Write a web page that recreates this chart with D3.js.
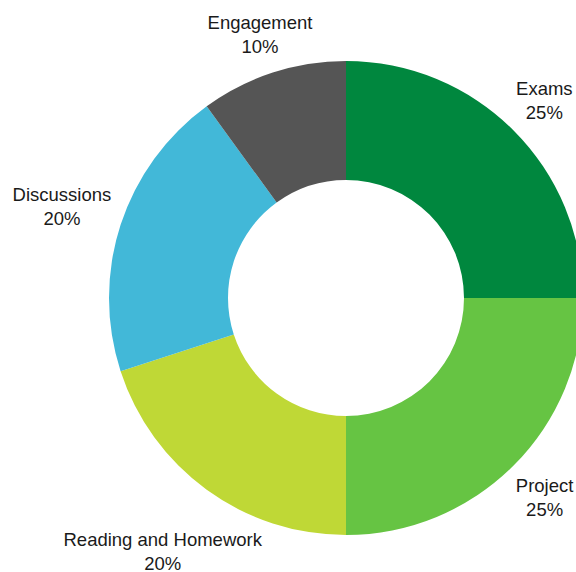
<!DOCTYPE html>
<html>
<head>
<meta charset="utf-8">
<script src="https://cdn.jsdelivr.net/npm/d3@7"></script>
<style>
  body { margin: 0; background: #fff; }
  svg text { font-family: "Liberation Sans", Arial, sans-serif; font-size: 18.5px; fill: #1a1a1a; }
</style>
</head>
<body>
<div id="chart"></div>
<script>
// Chart data.
var categories = ["Exams", "Project", "Reading and Homework", "Discussions", "Engagement"];
var values     = [25, 25, 20, 20, 10];
var colors     = ["#00873e", "#66c443", "#bfd836", "#42b8d8", "#555555"];

var width = 576, height = 572;
var cx = 346, cy = 298;
var outerR = 237, innerR = 118;
var labelGap = 245;   // distance from centre to the nearest edge of a label box
var lineH = 24;

var svg = d3.select("#chart").append("svg")
    .attr("width", width)
    .attr("height", height);

var g = svg.append("g").attr("transform", "translate(" + cx + "," + cy + ")");

var pie = d3.pie().sort(null).value(function(d) { return d; });
var arc = d3.arc().innerRadius(innerR).outerRadius(outerR);
var arcs = pie(values);

g.selectAll("path")
    .data(arcs).enter().append("path")
    .attr("d", arc)
    .attr("fill", function(d, i) { return colors[i]; });

// Labels: push each two-line box outward until it clears the ring.
var labels = g.selectAll("text.lbl")
    .data(arcs).enter().append("text")
    .attr("class", "lbl")
    .attr("text-anchor", "middle");

labels.each(function(d, i) {
    var t = d3.select(this);
    t.append("tspan").attr("x", 0).attr("dy", 0).text(categories[i]);
    t.append("tspan").attr("x", 0).attr("dy", lineH).text(values[i] + "%");

    var w = this.getBBox().width;
    var hw = w / 2, hh = 22;
    var a = (d.startAngle + d.endAngle) / 2;
    var dx = Math.sin(a), dy = -Math.cos(a);

    function nearest(r) {
        var px = r * dx, py = r * dy;
        var nx = Math.max(px - hw, Math.min(0, px + hw));
        var ny = Math.max(py - hh, Math.min(0, py + hh));
        return Math.sqrt(nx * nx + ny * ny);
    }
    var lo = 0, hi = 600;
    for (var k = 0; k < 40; k++) {
        var mid = (lo + hi) / 2;
        if (nearest(mid) < labelGap) lo = mid; else hi = mid;
    }
    var px = hi * dx, py = hi * dy;
    t.attr("transform", "translate(" + px + "," + (py - lineH / 2 + 7.5) + ")");
});
</script>
</body>
</html>
